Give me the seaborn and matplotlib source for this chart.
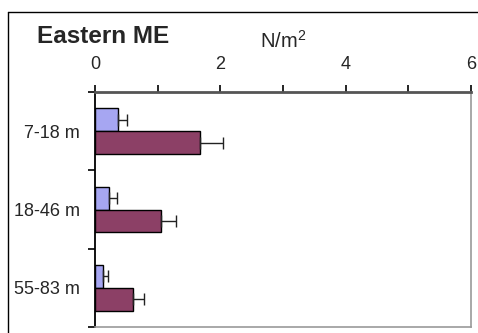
import matplotlib
matplotlib.use("Agg")
import matplotlib.pyplot as plt
from matplotlib.lines import Line2D
from matplotlib.ticker import FixedLocator
import seaborn as sns
import pandas as pd
import numpy as np

# Density by depth stratum, two groups
depths = ["7-18 m", "18-46 m", "55-83 m"]
groups = ["A", "B"]
values_a = [0.36, 0.23, 0.12]
errors_a = [0.15, 0.12, 0.08]
values_b = [1.68, 1.05, 0.61]
errors_b = [0.37, 0.25, 0.17]
x_ticks = [0, 1, 2, 3, 4, 5, 6]
x_labels = ["0", "", "2", "", "4", "", "6"]

sns.set_style("white")
plt.rcParams["font.family"] = ["Liberation Sans", "DejaVu Sans"]
plt.rcParams["mathtext.fontset"] = "custom"
plt.rcParams["mathtext.rm"] = "Liberation Sans"
plt.rcParams["mathtext.it"] = "Liberation Sans"

df = pd.DataFrame({
    "depth": depths * 2,
    "group": [groups[0]] * 3 + [groups[1]] * 3,
    "value": values_a + values_b,
    "err": errors_a + errors_b,
})

fig = plt.figure(figsize=(4.78, 3.33), dpi=100)
ax = fig.add_axes([95 / 478, 6 / 333, 376 / 478, 235 / 333])

sns.barplot(data=df, y="depth", x="value", hue="group", order=depths,
            hue_order=groups, palette=["#9999FF", "#993366"], orient="h",
            width=0.58, gap=0, edgecolor="black", linewidth=1.0,
            errorbar=None, legend=False, ax=ax)

# one-sided error bars at the end of each bar
for container, g in zip(ax.containers, groups):
    sub = df[df["group"] == g].set_index("depth").loc[depths]
    ys = [p.get_y() + p.get_height() / 2 for p in container.patches]
    ax.errorbar(sub["value"], ys, xerr=[np.zeros(len(ys)), sub["err"]],
                fmt="none", ecolor="#222222", elinewidth=1.0,
                capsize=4, capthick=1.0)

ax.set_xlim(0, 6)
ax.set_ylim(2.5, -0.5)
ax.xaxis.tick_top()
ax.xaxis.set_major_locator(FixedLocator(x_ticks))
ax.set_xticklabels(x_labels)
ax.tick_params(axis="x", direction="out", length=5, width=1.2, color="black",
               pad=9, labelsize=13, top=True, bottom=False)
ax.tick_params(axis="y", which="major", length=0, pad=11, labelsize=13)
ax.yaxis.set_minor_locator(FixedLocator([-0.5, 0.5, 1.5, 2.5]))
ax.tick_params(axis="y", which="minor", left=True, direction="out",
               length=5, width=1.2, color="black")
ax.set_xlabel("")
ax.set_ylabel("")

for side in ["top", "left", "right", "bottom"]:
    ax.spines[side].set_visible(True)
ax.spines["top"].set_color("#555555")
ax.spines["top"].set_linewidth(2.0)
ax.spines["left"].set_color("black")
ax.spines["left"].set_linewidth(1.3)
ax.spines["right"].set_color("#999999")
ax.spines["right"].set_linewidth(1.2)
ax.spines["bottom"].set_color("#999999")
ax.spines["bottom"].set_linewidth(1.2)

# outer frame (left and top edges)
fig.add_artist(Line2D([8 / 478, 8 / 478], [0, 1 - 12 / 333], color="black", lw=1.0))
fig.add_artist(Line2D([8 / 478, 1], [1 - 12 / 333, 1 - 12 / 333], color="black", lw=1.0))

fig.text(37 / 478, 1 - 43 / 333, "Eastern ME", fontsize=17.5,
         fontweight="bold", ha="left", va="baseline")
fig.text(283 / 478, 1 - 48 / 333, r"N/m$^2$", fontsize=14.5,
         ha="center", va="baseline")

fig.savefig("out.png", dpi=100)
